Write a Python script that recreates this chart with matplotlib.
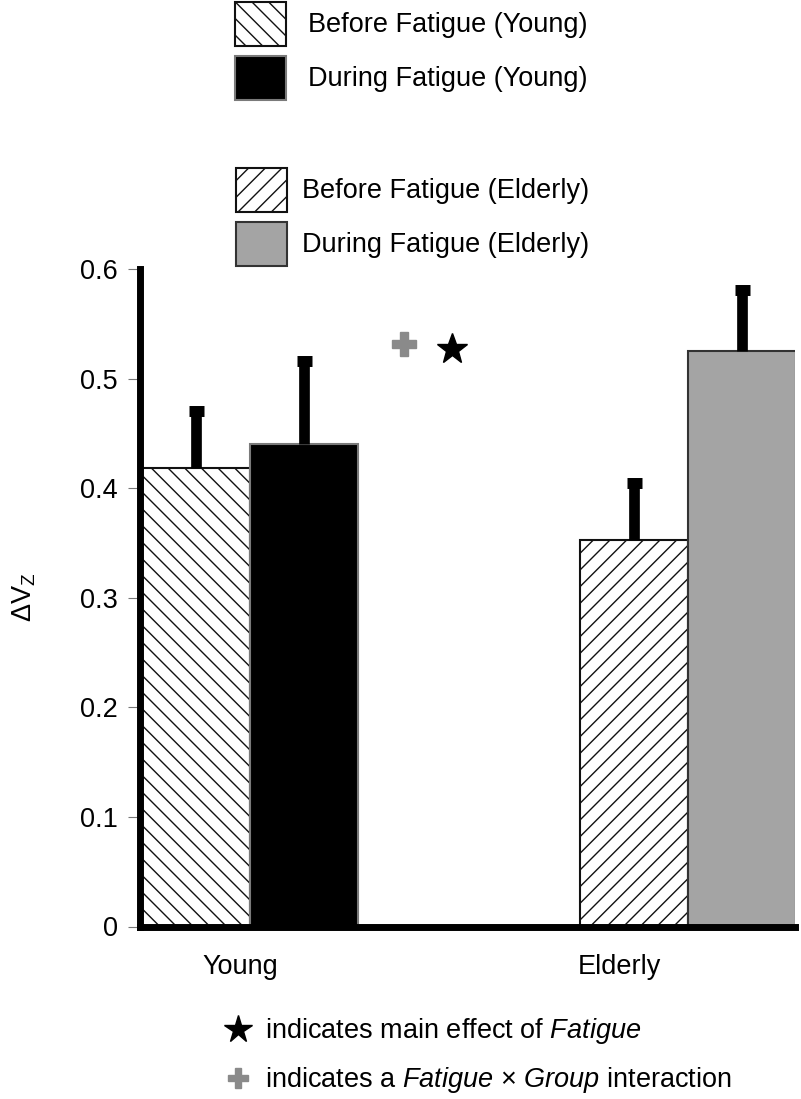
import matplotlib
matplotlib.use('Agg')
import matplotlib.pyplot as plt

plt.rcParams['font.family'] = ['Liberation Sans', 'DejaVu Sans']
plt.rcParams['mathtext.fontset'] = 'custom'
plt.rcParams['mathtext.rm'] = 'Liberation Sans'
plt.rcParams['mathtext.it'] = 'Liberation Sans:italic'
plt.rcParams['hatch.linewidth'] = 1.0

# ---- data ----
groups = ['Young', 'Elderly']
series_labels = ['Before Fatigue (Young)', 'During Fatigue (Young)',
                 'Before Fatigue (Elderly)', 'During Fatigue (Elderly)']
values = [0.418, 0.440, 0.353, 0.525]
errors = [0.052, 0.076, 0.052, 0.056]
yticks = [0, 0.1, 0.2, 0.3, 0.4, 0.5, 0.6]
ytick_labels = ['0', '0.1', '0.2', '0.3', '0.4', '0.5', '0.6']
note_star = 'indicates main effect of $\\mathit{Fatigue}$'
note_plus = 'indicates a $\\mathit{Fatigue}$ \u00d7 $\\mathit{Group}$ interaction'

# ---- layout ----
bar_x = [0, 1, 4.05, 5.05]
group_label_x = [0.41, 3.92]
styles = [
    dict(color='white', edgecolor='#111111', hatch='\\\\'),
    dict(color='black', edgecolor='#7a7a7a'),
    dict(color='white', edgecolor='#111111', hatch='//'),
    dict(color='#a4a4a4', edgecolor='#333333'),
]

W, H = 801, 1099
fig = plt.figure(figsize=(W / 100, H / 100), dpi=100)
ax = fig.add_axes([140 / W, (H - 926.5) / H, (795 - 140) / W, (926.5 - 269) / H])

bars = []
for x, v, e, st in zip(bar_x, values, errors, styles):
    b = ax.bar(x, v, width=1.0, linewidth=1.5, zorder=2, **st)
    bars.append(b)
    eb = ax.errorbar([x], [v], yerr=[[0], [e]], fmt='none', ecolor='black',
                     elinewidth=7.7, capsize=5.4, capthick=7.9, zorder=3)
    eb[1][0].set_visible(False)
    eb[2][0].set_capstyle('butt')

ax.set_xlim(-0.523, 5.542)
ax.set_ylim(0, 0.6)
ax.set_yticks(yticks)
ax.set_yticklabels(ytick_labels)
ax.set_xticks(group_label_x)
ax.set_xticklabels(groups)

for s in ['top', 'right']:
    ax.spines[s].set_visible(False)
for s in ['left', 'bottom']:
    ax.spines[s].set_linewidth(5)
    ax.spines[s].set_color('black')
ax.spines['bottom'].set_capstyle('projecting')

ax.tick_params(axis='y', direction='out', length=8.6, width=0.8, color='#777777',
               pad=7.2, labelsize=19.5)
ax.tick_params(axis='x', length=0, pad=20, labelsize=19.5)

ax.set_ylabel('\u0394V$_{\\mathrm{Z}}$', fontsize=19.5)
ax.yaxis.set_label_coords(-0.155, 0.5)

# significance markers
ax.plot([1.917], [0.5316], marker='P', markersize=17, color='#8a8a8a',
        linestyle='none', zorder=4, clip_on=False)
ax.plot([2.366], [0.527], marker='*', markersize=23, color='black',
        linestyle='none', zorder=4, clip_on=False)

# legends
common = dict(loc='upper left', frameon=False, borderpad=0, borderaxespad=0,
              handlelength=1.88, handleheight=2.095, labelspacing=0.39,
              fontsize=19.5)
fig.legend([bars[0], bars[1]], series_labels[:2],
           bbox_to_anchor=(235 / W, 1 - 2 / H), handletextpad=0.81, **common)
fig.legend([bars[2], bars[3]], series_labels[2:],
           bbox_to_anchor=(236 / W, 1 - 168 / H), handletextpad=0.55, **common)

# bottom notes
ax.plot([238 / W], [1 - 1029 / H], marker='*', markersize=20.5, color='black',
        transform=fig.transFigure, clip_on=False, linestyle='none')
ax.plot([238 / W], [1 - 1078 / H], marker='P', markersize=15, color='#8a8a8a',
        transform=fig.transFigure, clip_on=False, linestyle='none')
fig.text(265 / W, 1 - 1038 / H, note_star, fontsize=19.5, va='baseline')
fig.text(265 / W, 1 - 1087 / H, note_plus, fontsize=19.5, va='baseline')

fig.savefig('out.png', dpi=100)
